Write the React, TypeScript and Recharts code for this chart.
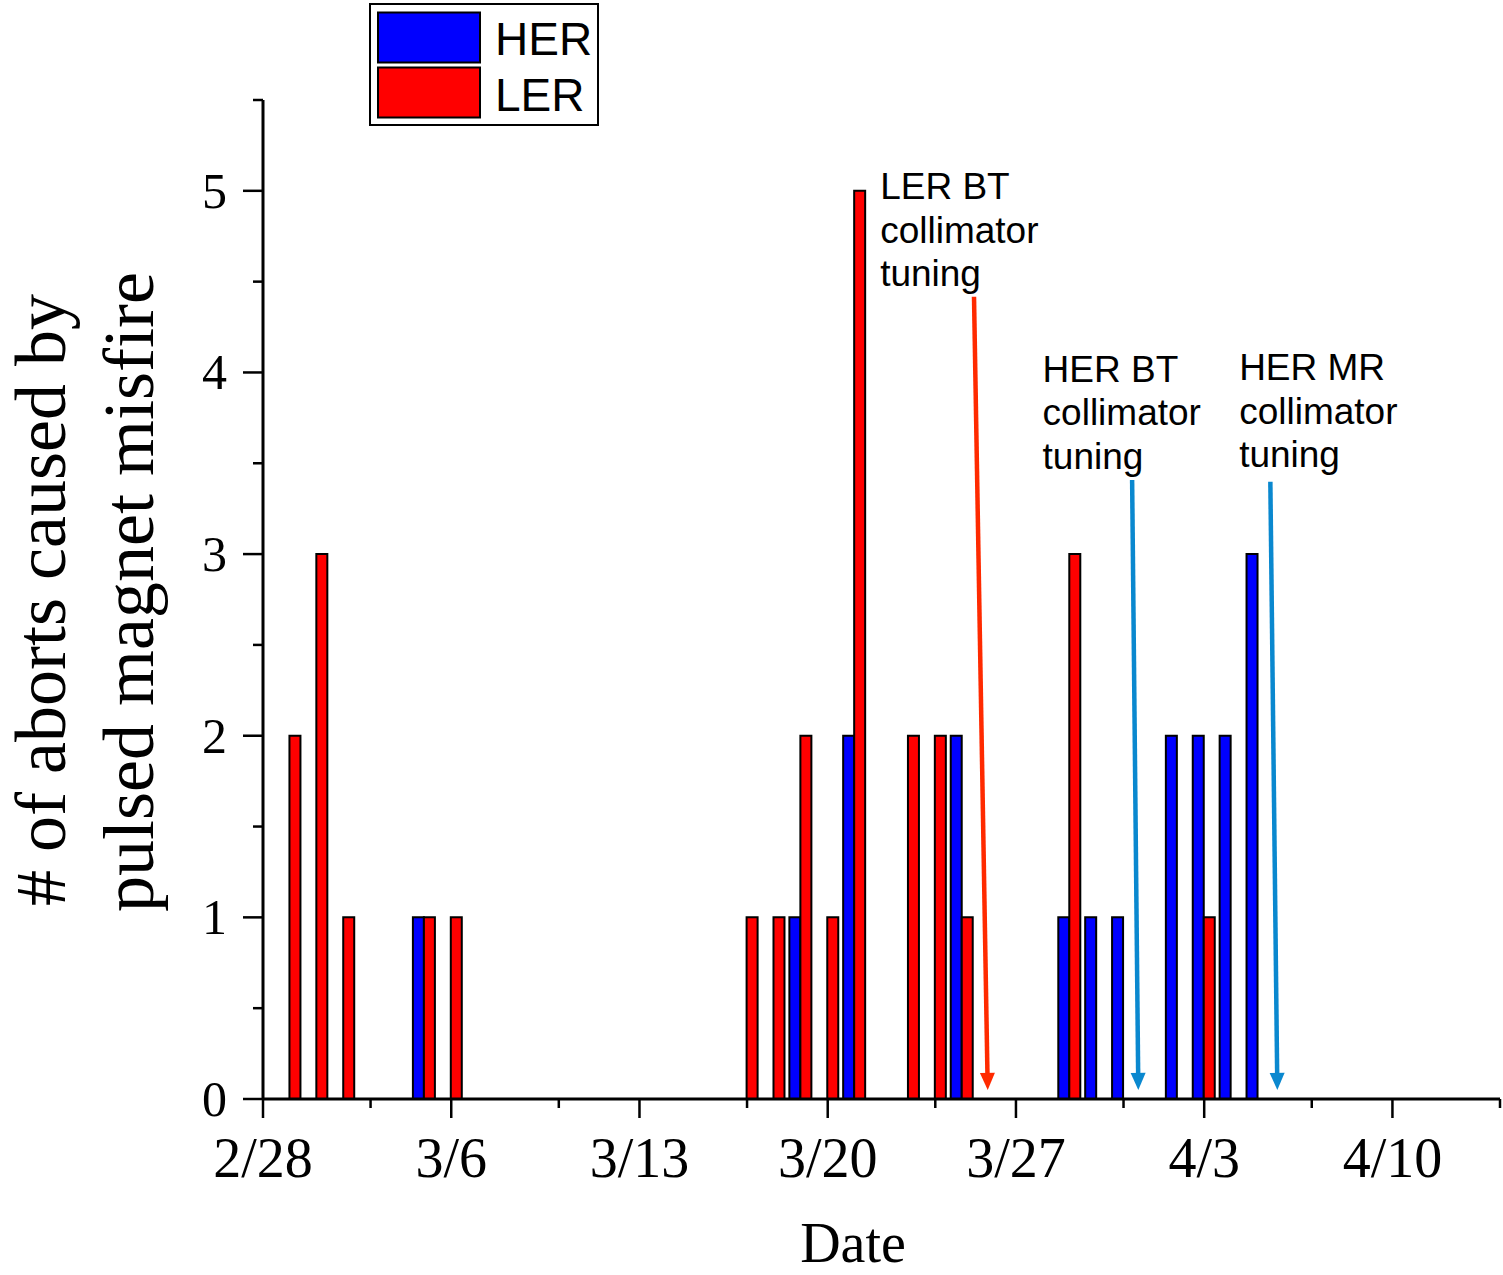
import React from 'react';
import { Bar, BarChart, Legend, ReferenceDot, ReferenceLine, XAxis, YAxis } from 'recharts';

// days with at least one abort (year 2024, so Feb has 29 days)
const dates = ['2/29', '3/1', '3/2', '3/5', '3/6', '3/17', '3/18', '3/19', '3/20', '3/21', '3/23', '3/24', '3/25', '3/29', '3/30', '3/31', '4/2', '4/3', '4/4', '4/5'];
const herCounts = [0, 0, 0, 1, 0, 0, 0, 1, 0, 2, 0, 0, 2, 1, 1, 1, 2, 2, 2, 3];
const lerCounts = [2, 3, 1, 1, 1, 1, 1, 2, 1, 5, 2, 2, 1, 3, 0, 0, 0, 1, 0, 0];

const xTickLabels = ['2/28', '3/6', '3/13', '3/20', '3/27', '4/3', '4/10'];
const xMinorLabels = ['3/3', '3/10', '3/17', '3/24', '3/31', '4/7', '4/14'];
const xEnd = '4/14';
const yTicks = [0, 1, 2, 3, 4, 5];
const yMinorTicks = [0.5, 1.5, 2.5, 3.5, 4.5, 5.5];

// annotations, in (day, count) units
const noteLines = [
  ['LER BT', 'collimator', 'tuning'],
  ['HER BT', 'collimator', 'tuning'],
  ['HER MR', 'collimator', 'tuning'],
];
const noteAt = [[22.95, 4.953], [28.99, 3.949], [36.3, 3.958]];
const arrowFrom = [[26.44, 4.417], [32.32, 3.408], [37.46, 3.398]];
const arrowTo = [[26.95, 0.05], [32.55, 0.05], [37.72, 0.05]];
const arrowColors = ['#ff2a00', '#0a88cf', '#0a88cf'];

const BASE = Date.UTC(2024, 1, 28);
const dayOf = (md: string) => {
  const [m, d] = md.split('/').map(Number);
  return Math.round((Date.UTC(2024, m - 1, d) - BASE) / 86400000);
};

const rows = dates.map((d, i) => ({
  day: dayOf(d),
  her: herCounts[i] || null,
  ler: lerCounts[i] || null,
}));

const majorDays = xTickLabels.map(dayOf);
const xTicks = [...majorDays, ...xMinorLabels.map(dayOf)].sort((a, b) => a - b);
const labelByDay: Record<number, string> = {};
xTickLabels.forEach((l) => (labelByDay[dayOf(l)] = l));

const SERIF = '"Liberation Serif", "Times New Roman", serif';
const SANS = '"Liberation Sans", Arial, sans-serif';

const renderXTick = (p: any) => {
  const v = p.payload.value;
  const major = majorDays.includes(v);
  return (
    <g>
      <line x1={p.x} y1={p.y} x2={p.x} y2={p.y + (major ? 19 : 9)} stroke="#000" strokeWidth={2.5} />
      {major && (
        <text x={p.x} y={p.y + 78} textAnchor="middle" fontFamily={SERIF} fontSize={56} fill="#000">
          {labelByDay[v]}
        </text>
      )}
    </g>
  );
};

const renderYTick = (p: any) => {
  const v = p.payload.value;
  const major = yTicks.includes(v);
  return (
    <g>
      <line x1={p.x} y1={p.y} x2={p.x - (major ? 20 : 10)} y2={p.y} stroke="#000" strokeWidth={2.5} />
      {major && (
        <text x={p.x - 36} y={p.y + 17} textAnchor="end" fontFamily={SERIF} fontSize={50} fill="#000">
          {v}
        </text>
      )}
    </g>
  );
};

const arrowShape = (color: string) => (p: any) => {
  const { x1, y1, x2, y2 } = p;
  const a = Math.atan2(y2 - y1, x2 - x1);
  const len = 17;
  const half = 7.5;
  const bx = x2 - len * Math.cos(a);
  const by = y2 - len * Math.sin(a);
  const px = -Math.sin(a) * half;
  const py = Math.cos(a) * half;
  return (
    <g>
      <line x1={x1} y1={y1} x2={bx} y2={by} stroke={color} strokeWidth={4.5} />
      <polygon points={`${x2},${y2} ${bx + px},${by + py} ${bx - px},${by - py}`} fill={color} />
    </g>
  );
};

const noteShape = (lines: string[]) => (p: any) => (
  <text x={p.cx} y={p.cy} fontFamily={SANS} fontSize={37} fill="#000">
    {lines.map((l, i) => (
      <tspan key={l} x={p.cx} dy={i === 0 ? 0 : 43.5}>
        {l}
      </tspan>
    ))}
  </text>
);

const renderLegend = (props: any) => {
  const items = props.payload || [];
  return (
    <svg width={232} height={126} style={{ display: 'block' }}>
      <rect x={1} y={1} width={228} height={121} fill="#fff" stroke="#000" strokeWidth={2} />
      {items.map((e: any, i: number) => (
        <g key={e.value}>
          <rect x={9} y={9.5 + i * 55} width={102} height={50} fill={e.color} stroke="#000" strokeWidth={2} />
          <text x={126} y={52 + i * 55.7} fontFamily={SANS} fontSize={46} fill="#000">
            {e.value}
          </text>
        </g>
      ))}
    </svg>
  );
};

const yTitle = () => (
  <g fontFamily={SERIF} fontSize={72} fill="#000">
    <text x={65} y={600} textAnchor="middle" transform="rotate(-90 65 600)">
      # of aborts caused by
    </text>
    <text x={153} y={592} textAnchor="middle" transform="rotate(-90 153 592)">
      pulsed magnet misfire
    </text>
  </g>
);

const xTitle = () => (
  <text x={853} y={1262} textAnchor="middle" fontFamily={SERIF} fontSize={56} fill="#000">
    Date
  </text>
);

export default function App() {
  return (
    <div style={{ position: 'absolute', left: 0, top: 0, background: '#fff' }}>
      <BarChart
        width={1503}
        height={1275}
        data={rows}
        margin={{ top: 100, right: 3, bottom: 0, left: 0 }}
        barSize={11}
        barGap={0}
      >
        <XAxis
          type="number"
          dataKey="day"
          domain={[0, dayOf(xEnd)]}
          ticks={xTicks}
          interval={0}
          height={176}
          axisLine={{ stroke: '#000', strokeWidth: 3 }}
          tickLine={false}
          tickSize={0}
          tickMargin={0}
          tick={renderXTick}
          label={xTitle}
        />
        <YAxis
          type="number"
          domain={[0, 5.5]}
          ticks={[...yTicks, ...yMinorTicks].sort((a, b) => a - b)}
          interval={0}
          width={263}
          axisLine={{ stroke: '#000', strokeWidth: 3 }}
          tickLine={false}
          tickSize={0}
          tickMargin={0}
          tick={renderYTick}
          label={yTitle}
        />
        <Bar dataKey="her" name="HER" fill="#0000ff" stroke="#000" strokeWidth={2} isAnimationActive={false} />
        <Bar dataKey="ler" name="LER" fill="#ff0000" stroke="#000" strokeWidth={2} isAnimationActive={false} />
        {arrowFrom.map((f, i) => (
          <ReferenceLine
            key={`a${i}`}
            segment={[
              { x: f[0], y: f[1] },
              { x: arrowTo[i][0], y: arrowTo[i][1] },
            ]}
            shape={arrowShape(arrowColors[i])}
          />
        ))}
        {noteAt.map((n, i) => (
          <ReferenceDot key={`n${i}`} x={n[0]} y={n[1]} shape={noteShape(noteLines[i])} />
        ))}
        <Legend
          verticalAlign="middle"
          align="center"
          content={renderLegend}
          wrapperStyle={{ left: 369, top: 3, width: 232, height: 126, right: 'auto', bottom: 'auto' }}
        />
      </BarChart>
    </div>
  );
}
